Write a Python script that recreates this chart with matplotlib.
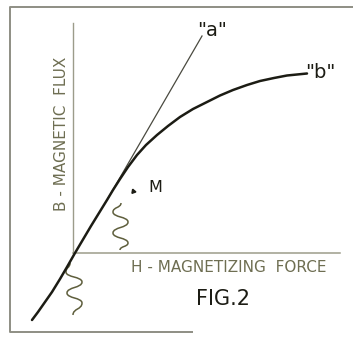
import matplotlib
matplotlib.use("Agg")
import matplotlib.pyplot as plt
from matplotlib.path import Path
from matplotlib.patches import PathPatch

# everything is in picture pixels (x right, y down)
curve_x = [32, 38, 45, 52, 60, 67, 75, 91, 107, 113, 120, 128, 137, 146, 157, 168, 180,
           193, 207, 220, 233, 247, 260, 274, 287, 297, 307]
curve_y = [320, 312, 302, 292, 279, 267, 253, 226, 200, 190, 179, 167, 155, 145, 135, 126, 117,
           109, 102, 95.5, 90, 85, 81, 78, 75.5, 74.5, 73.5]

# tangent line "a"
tangent_x = [107, 202]
tangent_y = [200, 36]

# axes of the sketch
yaxis_x = [73, 73]
yaxis_y = [23, 253]
xaxis_x = [73, 340]
xaxis_y = [253, 253]

# wavy lines: start, alternating extremes, end
wave1_x = [121, 113, 128, 113, 128, 120]
wave1_y = [203, 212, 222, 233, 243, 250]
wave2_x = [70, 66, 82, 67, 82, 73]
wave2_y = [263, 272, 282, 293, 303, 315]

# frame (open on the right)
frame_x = [353, 10, 10, 193]
frame_y = [7, 7, 332, 332]

marker_x = [133]
marker_y = [191]

ink = "#1c1c14"
grey = "#9c9c8a"
olive = "#5e5e3c"
label_col = "#6e6e52"


def wave_path(xs, ys):
    verts = [(xs[0], ys[0])]
    codes = [Path.MOVETO]
    for i in range(1, len(xs)):
        x0, y0 = xs[i - 1], ys[i - 1]
        x1, y1 = xs[i], ys[i]
        k = (y1 - y0) * 0.55
        verts += [(x0, y0 + k), (x1, y1 - k), (x1, y1)]
        codes += [Path.CURVE4] * 3
    return Path(verts, codes)


fig = plt.figure(figsize=(3.53, 3.44), dpi=100)
ax = fig.add_axes([0, 0, 1, 1])
ax.set_xlim(0, 353)
ax.set_ylim(344, 0)
ax.axis("off")

ax.plot(frame_x, frame_y, color="#8e8e84", lw=1.4, solid_capstyle="butt")
ax.plot(yaxis_x, yaxis_y, color=grey, lw=1.0)
ax.plot(xaxis_x, xaxis_y, color=grey, lw=1.1)
ax.plot(tangent_x, tangent_y, color="#4a4a40", lw=0.9)
ax.plot(curve_x, curve_y, color=ink, lw=1.8, solid_capstyle="round", solid_joinstyle="round")

for wx, wy in [(wave1_x, wave1_y), (wave2_x, wave2_y)]:
    ax.add_patch(PathPatch(wave_path(wx, wy), fill=False, edgecolor=olive, lw=1.1))

ax.plot(marker_x, marker_y, marker=(3, 0, 20), ms=3.5, color=ink, ls="none")

ax.text(61, 134, "B - MAGNETIC  FLUX", rotation=90, ha="center", va="center",
        fontsize=11, color=label_col)
ax.text(229, 268, "H - MAGNETIZING  FORCE", ha="center", va="center",
        fontsize=11, color=label_col)
ax.text(223, 299, "FIG.2", ha="center", va="center", fontsize=15, color=ink)
ax.text(155, 188, "M", ha="center", va="center", fontsize=11.5, color=ink)
ax.text(212, 30, "\"a\"", ha="center", va="center", fontsize=14, color=ink)
ax.text(320, 72, "\"b\"", ha="center", va="center", fontsize=14, color=ink)

fig.savefig("out.png", dpi=100)
